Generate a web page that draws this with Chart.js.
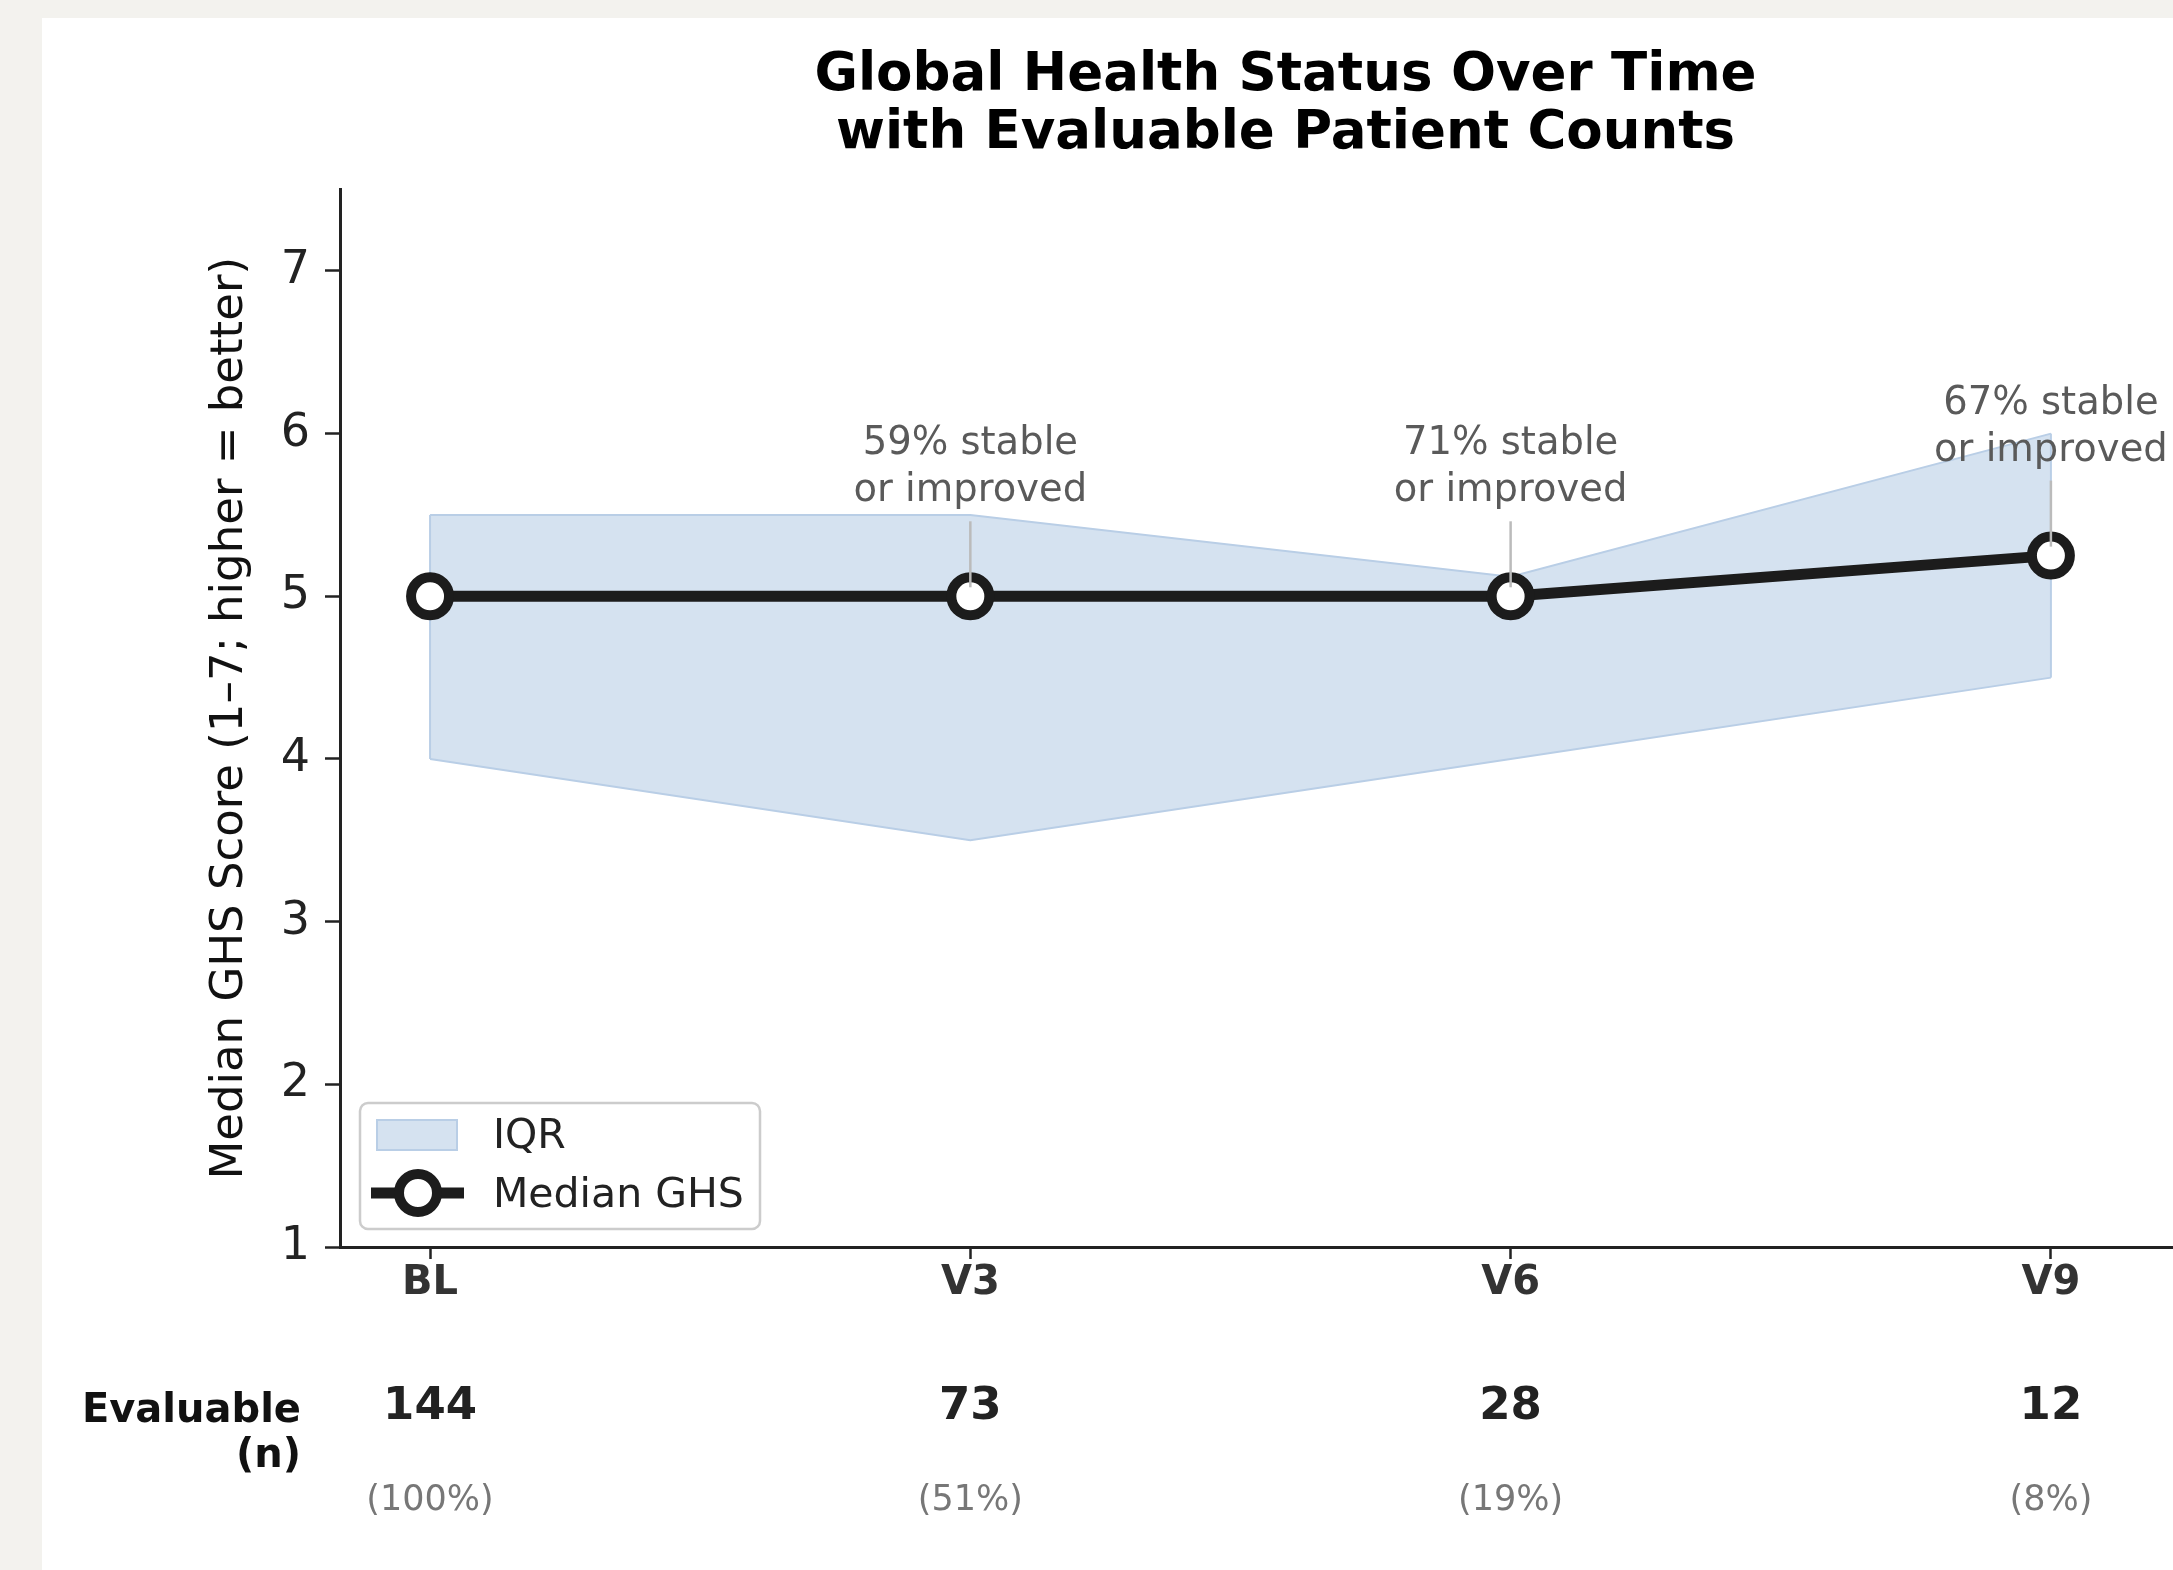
<!DOCTYPE html>
<html>
<head>
<meta charset="utf-8">
<script src="https://cdn.jsdelivr.net/npm/chart.js@4.4.0/dist/chart.umd.min.js"></script>
<style>
  html, body { margin: 0; padding: 0; background: #f3f2ee; overflow: hidden; width: 2173px; height: 1570px; }
  #card { position: absolute; left: 42px; top: 18px; width: 2218px; height: 1552px; background: #fff; }
  canvas { display: block; }
</style>
</head>
<body>
<div id="card"><canvas id="ghs" width="2218" height="1552"></canvas></div>
<script>
// --- data ---
const visitMonths = [0, 3, 6, 9];
const visitLabels = ["BL", "V3", "V6", "V9"];
const medianGHS = [5, 5, 5, 5.25];
const q1GHS = [4, 3.5, 4, 4.5];
const q3GHS = [5.5, 5.5, 5.12, 6];
const evaluableN = [144, 73, 28, 12];
const evaluablePct = [100, 51, 19, 8];
const stablePct = [null, 59, 71, 67];

const FONT = "'DejaVu Sans', 'Liberation Sans', sans-serif";
const INK = "#222222";
const LINE = "#1c1c1c";
const BAND_FILL = "#d5e2f0";
const BAND_EDGE = "#b9cee6";

const toPoints = (vals) => vals.map((v, i) => ({ x: visitMonths[i], y: v }));

// closes the IQR polygon at the first and last visit (like fill_between's outline)
const bandEdgesPlugin = {
  id: "bandEdges",
  afterDatasetDraw(chart, args) {
    if (args.meta.label !== "Q1") return;
    const { ctx, scales } = chart;
    ctx.save();
    ctx.strokeStyle = BAND_EDGE;
    ctx.lineWidth = 2;
    [0, visitMonths.length - 1].forEach((i) => {
      const px = scales.x.getPixelForValue(visitMonths[i]);
      ctx.beginPath();
      ctx.moveTo(px, scales.y.getPixelForValue(q1GHS[i]));
      ctx.lineTo(px, scales.y.getPixelForValue(q3GHS[i]));
      ctx.stroke();
    });
    ctx.restore();
  },
};

// "xx% stable or improved" callouts above each follow-up visit
const calloutPlugin = {
  id: "callouts",
  afterDatasetsDraw(chart) {
    const { ctx, scales } = chart;
    ctx.save();
    ctx.textAlign = "center";
    ctx.textBaseline = "middle";
    ctx.font = "38.5px " + FONT;
    stablePct.forEach((pct, i) => {
      if (pct === null) return;
      const px = scales.x.getPixelForValue(visitMonths[i]);
      const py = scales.y.getPixelForValue(medianGHS[i]);
      ctx.strokeStyle = "#bbbbbb";
      ctx.lineWidth = 2.5;
      ctx.beginPath();
      ctx.moveTo(px, py - 75);
      ctx.lineTo(px, py - 9);
      ctx.stroke();
      ctx.fillStyle = "#5a5a5a";
      ctx.fillText(pct + "% stable", px, py - 152);
      ctx.fillText("or improved", px, py - 105);
    });
    ctx.restore();
  },
};

// evaluable patient table under the x axis + legend box
const extrasPlugin = {
  id: "extras",
  afterDraw(chart) {
    const { ctx, scales, chartArea } = chart;
    ctx.save();

    // table
    ctx.textBaseline = "middle";
    ctx.fillStyle = "#111";
    ctx.font = "bold 40px " + FONT;
    ctx.textAlign = "right";
    ctx.fillText("Evaluable", chartArea.left - 39, 1394);
    ctx.fillText("(n)", chartArea.left - 39, 1439);

    ctx.textAlign = "center";
    visitMonths.forEach((m, i) => {
      const px = scales.x.getPixelForValue(m);
      ctx.fillStyle = INK;
      ctx.font = "bold 45px " + FONT;
      ctx.fillText(String(evaluableN[i]), px, 1389);
      ctx.fillStyle = "#777777";
      ctx.font = "35px " + FONT;
      ctx.fillText("(" + evaluablePct[i] + "%)", px, 1483);
    });

    // legend
    const bx = chartArea.left + 20;
    const by = chartArea.bottom - 144;
    const bw = 400, bh = 126;
    ctx.fillStyle = "rgba(255,255,255,0.85)";
    ctx.strokeStyle = "#cccccc";
    ctx.lineWidth = 2.5;
    ctx.beginPath();
    ctx.roundRect(bx, by, bw, bh, 8);
    ctx.fill();
    ctx.stroke();

    ctx.fillStyle = BAND_FILL;
    ctx.strokeStyle = BAND_EDGE;
    ctx.lineWidth = 2;
    ctx.fillRect(bx + 17, by + 17, 80, 30);
    ctx.strokeRect(bx + 17, by + 17, 80, 30);

    ctx.strokeStyle = LINE;
    ctx.lineWidth = 11;
    ctx.beginPath();
    ctx.moveTo(bx + 11, by + 90);
    ctx.lineTo(bx + 104, by + 90);
    ctx.stroke();
    ctx.fillStyle = "#ffffff";
    ctx.lineWidth = 10;
    ctx.beginPath();
    ctx.arc(bx + 58, by + 90, 19, 0, Math.PI * 2);
    ctx.fill();
    ctx.stroke();

    ctx.fillStyle = INK;
    ctx.font = "41px " + FONT;
    ctx.textAlign = "left";
    ctx.fillText("IQR", bx + 133, by + 34);
    ctx.fillText("Median GHS", bx + 133, by + 93);

    ctx.restore();
  },
};

const ctx = document.getElementById("ghs").getContext("2d");

new Chart(ctx, {
  type: "line",
  data: {
    datasets: [
      {
        label: "Median GHS",
        data: toPoints(medianGHS),
        order: 0,
        borderColor: LINE,
        borderWidth: 11,
        fill: false,
        pointRadius: 19,
        pointBorderWidth: 10,
        pointBackgroundColor: "#ffffff",
        pointBorderColor: LINE,
        tension: 0,
      },
      {
        label: "Q1",
        data: toPoints(q1GHS),
        order: 1,
        borderColor: BAND_EDGE,
        borderWidth: 2,
        fill: false,
        pointRadius: 0,
        tension: 0,
      },
      {
        label: "Q3",
        data: toPoints(q3GHS),
        order: 2,
        borderColor: BAND_EDGE,
        borderWidth: 2,
        backgroundColor: BAND_FILL,
        fill: 1,
        pointRadius: 0,
        tension: 0,
      },
    ],
  },
  options: {
    responsive: false,
    animation: false,
    events: [],
    layout: { padding: { left: 161, right: 10, top: 0, bottom: 0 } },
    plugins: {
      legend: { display: false },
      tooltip: { enabled: false },
      title: {
        display: true,
        fullSize: false,
        text: ["Global Health Status Over Time", "with Evaluable Patient Counts"],
        color: "#000",
        font: { family: FONT, size: 53, weight: "bold", lineHeight: 1.1 },
        padding: { top: 29, bottom: 26 },
      },
    },
    scales: {
      x: {
        type: "linear",
        min: -0.5,
        max: 10,
        afterBuildTicks: (scale) => {
          scale.ticks = visitMonths.map((v) => ({ value: v }));
        },
        afterFit: (scale) => {
          scale.height = 323;
        },
        ticks: {
          callback: (value) => visitLabels[visitMonths.indexOf(value)],
          color: "#333333",
          font: { family: FONT, size: 40, weight: "bold" },
          padding: 1,
          maxRotation: 0,
          autoSkip: false,
        },
        grid: {
          drawOnChartArea: false,
          tickLength: 12,
          tickColor: INK,
          tickWidth: 2.5,
        },
        border: { display: true, color: INK, width: 3 },
      },
      y: {
        min: 1,
        max: 7.5,
        afterFit: (scale) => {
          scale.width = 137;
        },
        ticks: {
          stepSize: 1,
          includeBounds: false,
          color: INK,
          font: { family: FONT, size: 46 },
          padding: 15,
        },
        grid: {
          drawOnChartArea: false,
          tickLength: 15,
          tickColor: INK,
          tickWidth: 2.5,
        },
        border: { display: true, color: INK, width: 3 },
        title: {
          display: true,
          text: "Median GHS Score (1\u20137; higher = better)",
          color: "#111",
          font: { family: FONT, size: 45 },
          padding: { top: 0, bottom: 0 },
        },
      },
    },
  },
  plugins: [bandEdgesPlugin, calloutPlugin, extrasPlugin],
});
</script>
</body>
</html>
